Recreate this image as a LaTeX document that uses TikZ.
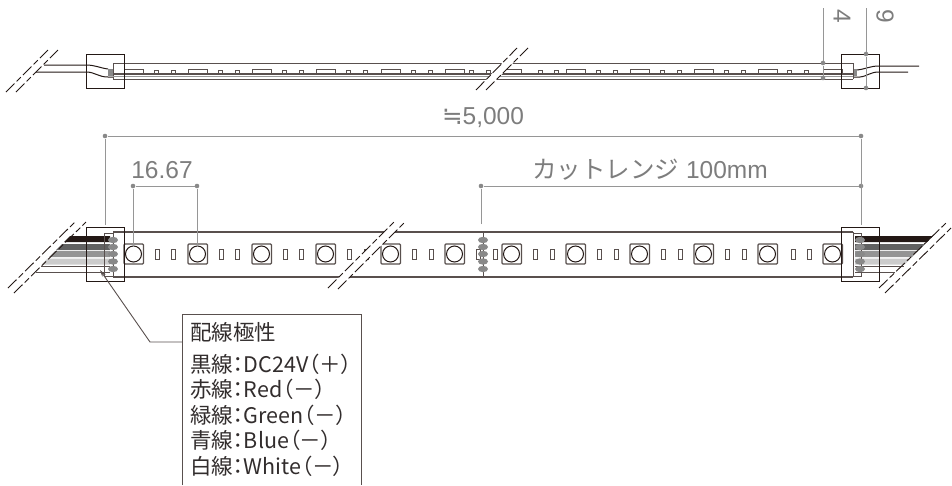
\documentclass[tikz,border=0pt]{standalone}
\usepackage{fontspec}
\usepackage{xcolor}
\usepackage{tikz}
\usetikzlibrary{arrows.meta, positioning, calc}
\setmainfont{Liberation Sans}
\newfontfamily\jpfont[RawFeature=+palt]{Noto Sans CJK JP}
\newfontfamily\jpwide{Noto Sans CJK JP}
\newfontfamily\symfont{DejaVu Sans}
\definecolor{lineDark}{RGB}{35, 24, 21}
\definecolor{lineStrip}{RGB}{89, 80, 78}
\definecolor{lineDim}{RGB}{150, 150, 150}
\definecolor{padGray}{RGB}{137, 137, 137}
\definecolor{textDim}{RGB}{125, 125, 125}
\definecolor{textDark}{RGB}{50, 45, 45}

\begin{document}
\begin{tikzpicture}[
    x=1pt, y=-1pt,
    outline/.style={draw=lineDark, line width=1pt},
    stripline/.style={draw=lineStrip, line width=1pt},
    thinpart/.style={draw=lineStrip, line width=0.7pt, fill=white},
    wirecut/.style={draw=lineDark, line width=0.9pt, dash pattern=on 12pt off 3pt on 6pt off 3pt},
    dimline/.style={draw=lineDim, line width=0.9pt},
    dimdot/.style={circle, fill=padGray, inner sep=0pt, minimum size=4.6pt},
    dimtext/.style={text=textDim, font=\fontsize{24.5}{26}\selectfont, inner sep=0pt},
    legendtext/.style={text=textDark, font=\jpfont\fontsize{21.5}{24}\selectfont, anchor=west, inner sep=0pt}
]
    \useasboundingbox (0,0) rectangle (952,485);

    % top strip
    \draw[outline] (44,65) -- (86,65) .. controls (95,65) and (100,68) .. (108,69);
    \draw[outline] (36,72) -- (86,72) .. controls (95,72) and (98,77) .. (108,77) -- (113,77);
    \draw[outline] (919,66) -- (879,66) .. controls (870,66) and (866,69) .. (857,70);
    \draw[outline] (908,72) -- (879,72) .. controls (870,72) and (868,76) .. (860,77) -- (853,77);
    \fill[padGray] (108,69) rectangle (113,76);
    \fill[padGray] (853,69) rectangle (857,76);
    \draw[stripline] (113,79) -- (113,63) -- (853,63) -- (853,79);
    \foreach \px in {124,188,252,316,381,445,502,566,630,694,758,823}
        \draw[thinpart] (\px,69) rectangle (\px+19,74);
    \foreach \px in {154,171,218,235,282,299,346,363,411,428,469,486,538,554,596,613,660,677,724,741,787,804}
        \draw[thinpart] (\px,70) rectangle (\px+4.5,74);
    \draw[stripline, line width=1.2pt] (113,74) -- (853,74);
    \draw[lineDim] (113,76.5) -- (853,76.5);
    \draw[stripline] (113,79) -- (853,79);
    \draw[outline] (86,54) rectangle (124,88);
    \draw[outline] (841,54) rectangle (879,88);
    \fill[white] (476,90) -- (517,48) -- (528,48) -- (486,90) -- cycle;
    \draw[wirecut] (6,92) -- (48,50);
    \draw[wirecut] (16,92) -- (58,50);
    \draw[wirecut] (476,90) -- (517,48);
    \draw[wirecut] (486,90) -- (528,48);

    % top dimensions
    \coordinate (topA) at (823,8);
    \coordinate (topB) at (866,8);
    \node[dimdot] (dotA) at (823,63) {};
    \node[dimdot] (dotB) at (823,78) {};
    \node[dimdot] (dotC) at (866,54) {};
    \node[dimdot] (dotD) at (866,88) {};
    \draw[dimline] (topA) -- (dotA) -- (dotB);
    \draw[dimline] (topB) -- (dotC) -- (dotD);
    \node[dimtext, rotate=-90] (sizeFour) at (842,16) {4};
    \node[dimtext, rotate=-90] (sizeNine) at (885,16) {9};

    % main strip wires
    \foreach \wy/\wc in {239/lineDark,247/black!62,254/black!42,261.5/black!20}{
        \fill[\wc] (309-\wy,\wy-3) -- (110,\wy-3) -- (110,\wy+3) -- (303-\wy,\wy+3) -- cycle;
        \fill[\wc] (855,\wy-3) -- (1172-\wy,\wy-3) -- (1166-\wy,\wy+3) -- (855,\wy+3) -- cycle;
    }
    \draw[stripline] (41,266) -- (110,266);
    \draw[stripline] (36,272) -- (110,272);
    \draw[stripline] (855,266) -- (904,266);
    \draw[stripline] (855,272) -- (895,272);

    % main strip
    \fill[white] (113,233) rectangle (853,276);
    \draw[stripline] (104,233) rectangle (113,276);
    \draw[stripline] (853,233) rectangle (861,276);
    \draw[stripline] (113,277) -- (113,232);
    \draw[stripline] (853,277) -- (853,232);
    \draw[stripline, line width=2pt] (113,232) -- (853,232);
    \draw[stripline, line width=2pt] (113,277) -- (853,277);
    \foreach \px in {124,188,252,316,381,445,502,566,630,694,758,823}{
        \draw[stripline, line width=1.1pt, rounded corners=1pt] (\px,244) rectangle (\px+19.5,264);
        \draw[draw=lineDark, line width=1pt, fill=white] (\px+9.5,254) circle[radius=8];
    }
    \foreach \px in {155,171,219,235,283,299,347,364,412,429,476,493,533,550,597,614,661,678,725,742,791,807}
        \draw[thinpart, line width=0.9pt] (\px,249) rectangle (\px+4.5,259);
    \draw[stripline] (483,232) -- (483,277);
    \foreach \px in {113,483,860}
        \foreach \wy in {240,247,254,261.5,269}
            \fill[padGray] (\px,\wy) ellipse[x radius=5, y radius=3.2];
    \draw[outline] (86,227) rectangle (124,281);
    \draw[outline] (841,227) rectangle (879,281);

    % breaks
    \fill[white] (327,289) -- (394,222) -- (405,222) -- (338,289) -- cycle;
    \draw[wirecut] (8,288) -- (76,221);
    \draw[wirecut] (14,293) -- (86,222);
    \draw[wirecut] (328,288) -- (394,222);
    \draw[wirecut] (338,289) -- (405,222);
    \draw[wirecut] (879,288) -- (947,222);
    \draw[wirecut] (885,293) -- (951,228);

    % main dimensions
    \node[dimdot] (totalL) at (105,136) {};
    \node[dimdot] (totalR) at (861,136) {};
    \node[dimdot] (pitchL) at (133,186) {};
    \node[dimdot] (pitchR) at (197,186) {};
    \node[dimdot] (cutL) at (481,186) {};
    \node[dimdot] (cutR) at (861,186) {};
    \coordinate (totalLend) at (105,225);
    \coordinate (totalRend) at (861,225);
    \coordinate (pitchLend) at (133,247);
    \coordinate (pitchRend) at (197,247);
    \coordinate (cutLend) at (481,224);
    \draw[dimline] (totalLend) -- (totalL) -- (totalR) -- (totalRend);
    \draw[dimline] (pitchLend) -- (pitchL) -- (pitchR) -- (pitchRend);
    \draw[dimline] (cutLend) -- (cutL) -- (cutR);
    \node[dimtext] (total) at (483,118) {{\symfont ≒}5,000};
    \node[dimtext] (pitch) at (162,170) {16.67};
    \node[dimtext] (cutrange) at (650,170) {{\jpwide カットレンジ} 100mm};

    % legend
    \coordinate (legendTip) at (100,270);
    \coordinate (legendElbow) at (150,342);
    \coordinate (legendFoot) at (182,342);
    \draw[draw=lineStrip, line width=0.9pt, -{Stealth[length=7pt, width=4pt]}] (legendFoot) -- (legendElbow) -- (legendTip);
    \draw[stripline] (182,485) -- (182,314) -- (361,314) -- (361,485);
    \node[legendtext] (legendTitle) at (190,332) {配線極性};
    \node[legendtext] (legendBlack) at (190,364) {黒線：DC24V（＋）};
    \node[legendtext] (legendRed) at (190,389) {赤線：Red（－）};
    \node[legendtext] (legendGreen) at (190,415) {緑線：Green（－）};
    \node[legendtext] (legendBlue) at (190,440) {青線：Blue（－）};
    \node[legendtext] (legendWhite) at (190,466) {白線：White（－）};
\end{tikzpicture}
\end{document}
